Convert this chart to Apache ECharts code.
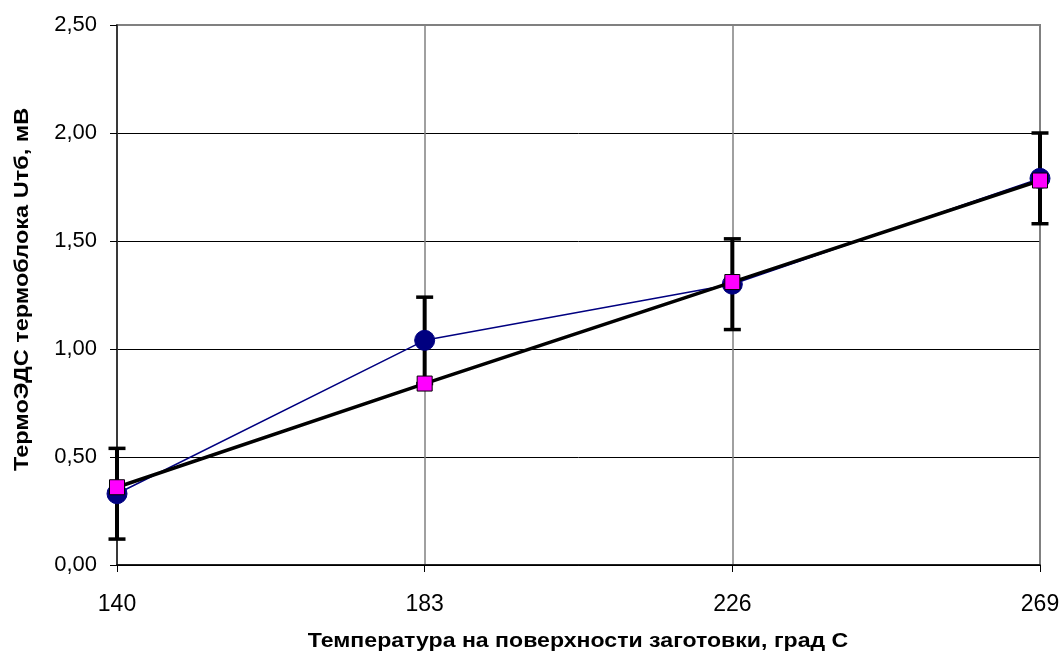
<!DOCTYPE html>
<html>
<head>
<meta charset="utf-8">
<title>ТермоЭДС термоблока</title>
<script src="https://cdn.jsdelivr.net/npm/echarts@6/dist/echarts.min.js"></script>
<style>
  html, body { margin: 0; padding: 0; background: #ffffff; }
  #chart { width: 1063px; height: 659px; }
</style>
</head>
<body>
<div id="chart"></div>
<script>
// Surface temperature of the workpiece, °C
const temperatures = ['140', '183', '226', '269'];
// Measured thermo-EMF, mV (circles)
const measured = [0.33, 1.04, 1.30, 1.79];
// Calculated thermo-EMF, mV (squares)
const calculated = [0.36, 0.84, 1.31, 1.78];
// Error margin of the measured values, mV
const errorMargin = [0.21, 0.20, 0.21, 0.21];
// Value axis tick labels
const yTicks = ['0,00', '0,50', '1,00', '1,50', '2,00', '2,50'];

const FONT = '"Liberation Sans", Arial, sans-serif';

const errorData = measured.map((v, i) => [i, v - errorMargin[i], v + errorMargin[i]]);

const chart = echarts.init(document.getElementById('chart'), null, { renderer: 'canvas' });

chart.setOption({
  backgroundColor: '#ffffff',
  animation: false,
  grid: {
    left: 117, right: 23, top: 25, bottom: 94,
    show: true, borderColor: '#808080', borderWidth: 2, backgroundColor: 'transparent'
  },
  xAxis: {
    type: 'category',
    data: temperatures,
    boundaryGap: false,
    axisLine: { lineStyle: { color: '#000', width: 1.5 } },
    axisTick: { show: true, length: 7, lineStyle: { color: '#000', width: 1 } },
    axisLabel: { fontFamily: FONT, fontSize: 23, color: '#000', margin: 28 },
    splitLine: { show: true, lineStyle: { color: '#808080', width: 1.5 } }
  },
  yAxis: {
    type: 'value',
    min: 0, max: 2.5, interval: 0.5,
    axisLine: { show: true, lineStyle: { color: '#222', width: 1.5 } },
    axisTick: { show: true, length: 7, lineStyle: { color: '#000', width: 1 } },
    axisLabel: {
      fontFamily: FONT, fontSize: 22, color: '#000', margin: 20,
      formatter: (v) => yTicks[Math.round(v / 0.5)]
    },
    splitLine: { show: true, showMaxLine: false, lineStyle: { color: '#000', width: 1 } }
  },
  graphic: [
    {
      type: 'text',
      x: 578, y: 641,
      scaleX: 1.1,
      style: {
        text: 'Температура на поверхности заготовки, град С',
        font: 'bold 21px ' + FONT,
        fill: '#000',
        textAlign: 'center',
        textVerticalAlign: 'middle'
      }
    },
    {
      type: 'text',
      x: 22, y: 471,
      rotation: Math.PI / 2,
      scaleX: 1.12,
      style: {
        text: 'ТермоЭДС термоблока Uтб, мВ',
        font: 'bold 21px ' + FONT,
        fill: '#000',
        textAlign: 'left',
        textVerticalAlign: 'middle'
      }
    }
  ],
  series: [
    {
      name: 'errors',
      type: 'custom',
      z: 2,
      data: errorData,
      renderItem: (params, api) => {
        const x = api.value(0);
        const lo = api.coord([x, api.value(1)]);
        const hi = api.coord([x, api.value(2)]);
        const half = 8.5;
        return {
          type: 'group',
          children: [
            { type: 'line', shape: { x1: lo[0], y1: lo[1], x2: hi[0], y2: hi[1] }, style: { stroke: '#000', lineWidth: 4 } },
            { type: 'line', shape: { x1: lo[0] - half, y1: lo[1], x2: lo[0] + half, y2: lo[1] }, style: { stroke: '#000', lineWidth: 3.5 } },
            { type: 'line', shape: { x1: hi[0] - half, y1: hi[1], x2: hi[0] + half, y2: hi[1] }, style: { stroke: '#000', lineWidth: 3.5 } }
          ]
        };
      }
    },
    {
      name: 'measured',
      type: 'line',
      z: 3,
      data: measured,
      symbol: 'circle',
      symbolSize: 20,
      showAllSymbol: true,
      lineStyle: { color: '#000080', width: 1.5 },
      itemStyle: { color: '#000080', borderColor: '#000080', borderWidth: 1 }
    },
    {
      name: 'calculated',
      type: 'line',
      z: 4,
      data: calculated,
      symbol: 'rect',
      symbolSize: 15,
      showAllSymbol: true,
      lineStyle: { color: '#000', width: 3.5 },
      itemStyle: { color: '#ff00ff', borderColor: '#000', borderWidth: 1 }
    }
  ]
});
</script>
</body>
</html>
